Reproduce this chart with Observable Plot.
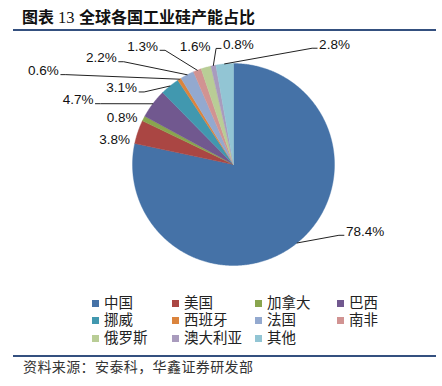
<!DOCTYPE html>
<html>
<head>
<meta charset="utf-8">
<script src="https://cdn.jsdelivr.net/npm/d3@7"></script>
<script src="https://cdn.jsdelivr.net/npm/@observablehq/plot@0.6"></script>
<style>
  html, body { margin: 0; padding: 0; background: #fff; }
  body { width: 442px; height: 386px; position: relative; overflow: hidden;
         font-family: "Liberation Sans", "Noto Sans CJK SC", sans-serif; }
  #title { position: absolute; left: 0; top: 10px; width: 442px; height: 18px;
           font-size: 16px; line-height: 16px; font-weight: bold; color: #111; white-space: pre; }
  #title span { position: absolute; top: 0; }
  #title .num { font-family: "Liberation Serif", serif; font-weight: normal; font-size: 16.5px; top: 0px; }
  .rule { position: absolute; left: 13px; width: 423px; height: 2px; background: #34507F; }
  #chart { position: absolute; left: 0; top: 0; }
  .li { position: absolute; font-size: 14.5px; line-height: 14.5px; color: #222; white-space: nowrap; }
  .sw { position: absolute; width: 7px; height: 7px; }
  #source { position: absolute; left: 23px; top: 360px; font-size: 14px; line-height: 14px;
            color: #333; letter-spacing: 0.4px; white-space: pre; }
</style>
</head>
<body>
<div id="title"></div>
<div class="rule" style="top:29px"></div>
<div id="chart"></div>
<div id="legend"></div>
<div class="rule" style="top:355px"></div>
<div id="source"></div>
<script>
// ---- data ----
const titleParts = ["图表", "13", "全球各国工业硅产能占比"];
const sourceText = "资料来源：安泰科，华鑫证券研发部";
const countries = ["中国", "美国", "加拿大", "巴西", "挪威", "西班牙", "法国", "南非", "俄罗斯", "澳大利亚", "其他"];
const shares = [78.4, 3.8, 0.8, 4.7, 3.1, 0.6, 2.2, 1.3, 1.6, 0.8, 2.8];
const colors = ["#4572A7", "#AA4643", "#89A54E", "#71588F", "#4198AF", "#DB843D",
                "#93A9CF", "#D19392", "#B9CD96", "#A99BBD", "#92C5D4"];

// ---- layout ----
const titleLeft = [22, 58, 79];
// Excel's manual label placement: angle clockwise from 12 o'clock, radius in pie radii
const labelAngle = [117.6, 281, 292, 292, 303.7, 295.8, 308.4, 322, 341.7, 2.4, 40.5];
const labelRadius = [1.47, 1.20, 1.19, 1.66, 1.33, 2.09, 1.67, 1.46, 1.21, 1.17, 1.54];
const cx = 233, cy = 164, R = 101;
const labelFont = "13.5px 'Liberation Sans'";

const titleEl = document.getElementById("title");
titleParts.forEach((p, i) => {
  const s = document.createElement("span");
  if (i === 1) s.className = "num";
  s.style.left = titleLeft[i] + "px";
  s.textContent = p;
  titleEl.appendChild(s);
});
document.getElementById("source").textContent = sourceText;

const total = d3.sum(shares);
const rad = Math.PI / 180;

// slice polygons
const slicePts = [];
const sliceMid = [];
let acc = 0;
shares.forEach((v, i) => {
  const a0 = acc / total * 2 * Math.PI;
  acc += v;
  const a1 = acc / total * 2 * Math.PI;
  sliceMid.push((a0 + a1) / 2);
  const n = Math.max(2, Math.ceil((a1 - a0) / (0.5 * rad)));
  slicePts.push({name: countries[i], x: 0, y: 0});
  for (let k = 0; k <= n; k++) {
    const a = a0 + (a1 - a0) * k / n;
    slicePts.push({name: countries[i], x: Math.sin(a), y: Math.cos(a)});
  }
  slicePts.push({name: countries[i], x: 0, y: 0});
});

// labels
const ctx = document.createElement("canvas").getContext("2d");
ctx.font = labelFont;
const labels = shares.map((v, i) => {
  const a = labelAngle[i] * rad, r = labelRadius[i];
  const text = v.toFixed(1) + "%";
  return {text, x: r * Math.sin(a), y: r * Math.cos(a), hw: ctx.measureText(text).width / 2 / R};
});

// leader lines
const leaders = [];
labels.forEach((L, i) => {
  const m = sliceMid[i];
  const E = {x: Math.sin(m), y: Math.cos(m)};
  const hh = 7 / R;
  let pts;
  if (E.x >= L.x - L.hw && E.x <= L.x + L.hw) {
    const A = {x: E.x, y: E.y < L.y ? L.y - hh : L.y + hh};
    pts = [A, E];
  } else {
    const s = E.x > L.x ? 1 : -1;
    const A = {x: L.x + s * (L.hw + 2 / R), y: L.y - 2 / R};
    const B = {x: A.x + s * 5 / R, y: A.y};
    pts = [A, B, E];
  }
  const A = pts[0];
  const d = Math.hypot((A.x - E.x) * R, (A.y - E.y) * R);
  if (d < 16) return;
  pts.forEach(p => leaders.push({id: i, x: p.x, y: p.y}));
});

const chart = Plot.plot({
  width: 442,
  height: 386,
  margin: 0,
  x: {domain: [-1, 1], range: [cx - R, cx + R], axis: null},
  y: {domain: [-1, 1], range: [cy + R, cy - R], axis: null},
  color: {domain: countries, range: colors},
  marks: [
    Plot.line(slicePts, {x: "x", y: "y", z: "name", fill: "name", stroke: "name", strokeWidth: 0.4, curve: "linear"}),
    Plot.line(leaders, {x: "x", y: "y", z: "id", stroke: "#222", strokeWidth: 1}),
    Plot.text(labels, {x: "x", y: "y", text: "text", fill: "#111", fontSize: 13.5,
                       fontFamily: "Liberation Sans", textAnchor: "middle", dy: -2})
  ]
});
document.getElementById("chart").appendChild(chart);

// legend (HTML)
const legCols = [92, 172, 255, 337];
const legRows = [303, 320.5, 338];
const leg = document.getElementById("legend");
countries.forEach((c, i) => {
  const col = i % 4, row = Math.floor(i / 4);
  const sw = document.createElement("div");
  sw.className = "sw";
  sw.style.left = legCols[col] + "px";
  sw.style.top = (legRows[row] - 3.5) + "px";
  sw.style.background = colors[i];
  leg.appendChild(sw);
  const t = document.createElement("div");
  t.className = "li";
  t.style.left = (legCols[col] + 12) + "px";
  t.style.top = (legRows[row] - 7.5) + "px";
  t.textContent = c;
  leg.appendChild(t);
});
</script>
</body>
</html>
